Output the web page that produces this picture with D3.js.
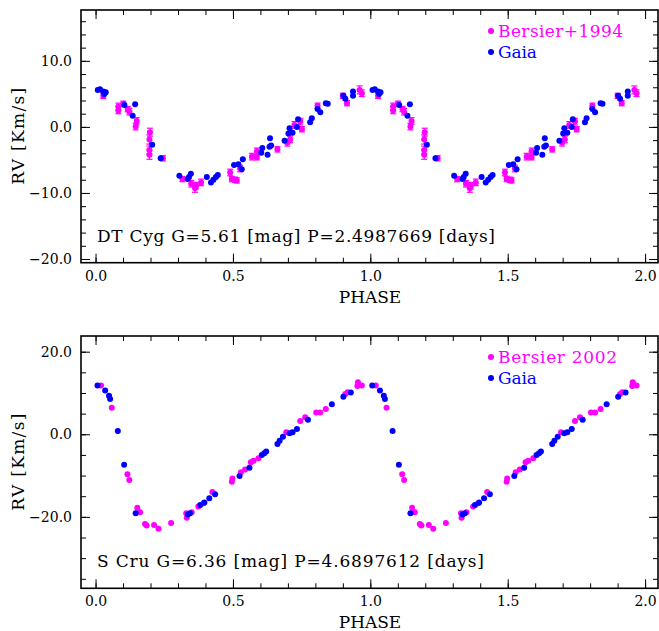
<!DOCTYPE html>
<html>
<head>
<meta charset="utf-8">
<script src="https://cdn.jsdelivr.net/npm/d3@7"></script>
<style>
  body { margin: 0; background: #fff; }
  svg text { font-family: "DejaVu Serif", serif; fill: #000; }
</style>
</head>
<body>
<div id="chart"></div>
<script>
// DT Cyg, phase 0..1 (drawn again at phase+1)
const dtGaiaPhase = [0.008, 0.016, 0.028, 0.037, 0.032, 0.105, 0.144, 0.135, 0.206, 0.237, 0.305, 0.335, 0.347, 0.340, 0.405, 0.420, 0.429, 0.438, 0.445, 0.504, 0.520, 0.536, 0.532, 0.603, 0.607, 0.626, 0.633, 0.639, 0.635, 0.688, 0.702, 0.717, 0.706, 0.733, 0.737, 0.781, 0.787, 0.808, 0.818, 0.838, 0.845, 0.902, 0.909, 0.937, 0.937];
const dtGaiaRV = [5.6, 5.7, 5.35, 5.25, 5.0, 3.33, 3.44, 1.7, -2.7, -4.75, -7.4, -7.9, -7.1, -7.6, -7.6, -8.4, -8.0, -7.6, -7.3, -5.75, -5.65, -4.9, -6.4, -3.9, -3.2, -4.2, -3.0, -2.8, -1.7, -2.1, -1.0, -0.9, -0.2, 0.0, 1.17, 0.7, 1.3, 2.7, 2.2, 3.6, 3.5, 4.7, 4.25, 5.35, 4.7];
const dtBerPhase = [0.028, 0.083, 0.083, 0.101, 0.117, 0.123, 0.150, 0.146, 0.198, 0.196, 0.196, 0.196, 0.245, 0.316, 0.348, 0.362, 0.366, 0.384, 0.490, 0.496, 0.508, 0.514, 0.526, 0.569, 0.587, 0.587, 0.662, 0.698, 0.708, 0.724, 0.745, 0.751, 0.808, 0.900, 0.915, 0.961, 0.969];
const dtBerRV = [4.7, 3.1, 2.5, 3.5, 2.7, 2.3, 0.9, 0.05, -0.8, -1.9, -3.5, -4.2, -4.75, -7.9, -8.6, -9.3, -8.9, -8.4, -6.9, -7.9, -8.0, -8.1, -6.3, -4.5, -3.7, -4.6, -3.4, -2.4, -1.9, 0.3, 0.8, -0.35, 3.2, 4.7, 3.6, 5.6, 5.1];
const dtBerErr = [0.4, 0.5, 0.5, 0.4, 0.4, 0.5, 0.5, 0.5, 0.6, 0.7, 0.6, 0.7, 0.4, 0.4, 0.5, 0.6, 0.5, 0.5, 0.5, 0.4, 0.4, 0.4, 0.5, 0.5, 0.5, 0.4, 0.4, 0.5, 0.5, 0.5, 0.5, 0.4, 0.4, 0.4, 0.4, 0.6, 0.5];

// S Cru
const scGaiaPhase = [0.007, 0.035, 0.049, 0.053, 0.081, 0.104, 0.146, 0.336, 0.344, 0.381, 0.396, 0.414, 0.435, 0.524, 0.560, 0.605, 0.614, 0.621, 0.662, 0.670, 0.682, 0.706, 0.717, 0.733, 0.773, 0.860, 0.902, 0.929];
const scGaiaRV = [11.8, 10.6, 9.35, 8.55, 0.8, -7.4, -19.1, -19.4, -19.1, -17.1, -16.5, -15.5, -14.5, -10.1, -8.1, -5.0, -4.6, -4.2, -2.35, -1.55, -0.6, 0.25, 0.5, 1.3, 3.5, 7.25, 9.1, 10.1];
const scBerPhase = [0.020, 0.059, 0.116, 0.123, 0.152, 0.162, 0.180, 0.186, 0.213, 0.229, 0.275, 0.330, 0.332, 0.350, 0.374, 0.393, 0.425, 0.496, 0.498, 0.529, 0.544, 0.565, 0.575, 0.593, 0.694, 0.745, 0.763, 0.803, 0.818, 0.838, 0.909, 0.917, 0.955, 0.953, 0.969];
const scBerRV = [11.8, 6.45, -9.7, -11.1, -17.8, -18.9, -21.7, -22.1, -22.0, -22.9, -21.5, -19.1, -20.2, -18.9, -17.5, -16.7, -14.0, -11.5, -10.7, -9.2, -8.5, -6.8, -6.4, -5.8, 0.5, 3.2, 4.1, 5.3, 5.3, 6.1, 9.75, 10.2, 12.6, 11.7, 11.8];

const xMajor = [0, 0.5, 1, 1.5, 2];
const xMinor = d3.range(0, 21).map(i => i / 10);
const dtYMajor = [10, 0, -10, -20];
const dtYMinor = d3.range(-20, 18, 2);
const scYMajor = [20, 0, -20];
const scYMinor = d3.range(-35, 25, 5);

const W = 659, H = 631;
const svg = d3.select("#chart").append("svg").attr("width", W).attr("height", H);

const MAGENTA = "#ff00ff", BLUE = "#0000ff";

function twice(phase, vals) {
  const out = [];
  for (let k = 0; k < 2; k++) {
    phase.forEach((p, i) => out.push({ x: p + k, y: vals[i], i: i }));
  }
  return out;
}

function drawPanel(cfg) {
  const x = d3.scaleLinear().domain([-0.053, 2.047]).range([81, 658]);
  const y = d3.scaleLinear().domain(cfg.yDomain).range([cfg.bottom, cfg.top]);
  const g = svg.append("g");

  // ticks, all pointing inward
  const addAxis = (axis, tr) => {
    const a = g.append("g").attr("transform", tr).call(axis);
    a.select(".domain").remove();
    a.selectAll("line").attr("stroke", "#000").attr("stroke-width", 1);
    a.selectAll("text").attr("font-size", 14).attr("font-family", "DejaVu Serif").attr("fill", "#000");
    return a;
  };
  addAxis(d3.axisBottom(x).tickValues(xMinor).tickSize(-5).tickFormat(""), `translate(0,${cfg.bottom})`);
  addAxis(d3.axisBottom(x).tickValues(xMajor).tickSize(-9).tickPadding(8).tickFormat(d3.format(".1f")), `translate(0,${cfg.bottom})`);
  addAxis(d3.axisTop(x).tickValues(xMinor).tickSize(-5).tickFormat(""), `translate(0,${cfg.top})`);
  addAxis(d3.axisTop(x).tickValues(xMajor).tickSize(-9).tickFormat(""), `translate(0,${cfg.top})`);
  addAxis(d3.axisLeft(y).tickValues(cfg.yMinor).tickSize(-5).tickFormat(""), "translate(81,0)");
  addAxis(d3.axisLeft(y).tickValues(cfg.yMajor).tickSize(-9).tickPadding(9).tickFormat(d3.format(".1f")), "translate(81,0)");
  addAxis(d3.axisRight(y).tickValues(cfg.yMinor).tickSize(-5).tickFormat(""), "translate(658,0)");
  addAxis(d3.axisRight(y).tickValues(cfg.yMajor).tickSize(-9).tickFormat(""), "translate(658,0)");

  g.append("rect")
    .attr("x", 81).attr("y", cfg.top)
    .attr("width", 658 - 81).attr("height", cfg.bottom - cfg.top)
    .attr("fill", "none").attr("stroke", "#000").attr("stroke-width", 1.6);

  // Bersier points with error bars
  const ber = twice(cfg.berPhase, cfg.berRV);
  if (cfg.berErr) {
    const eb = g.append("g").attr("stroke", MAGENTA).attr("stroke-width", 1.2);
    ber.forEach(d => {
      const e = cfg.berErr[d.i];
      const cx = x(d.x), y0 = y(d.y - e), y1 = y(d.y + e);
      eb.append("line").attr("x1", cx).attr("x2", cx).attr("y1", y0).attr("y2", y1);
      eb.append("line").attr("x1", cx - 3).attr("x2", cx + 3).attr("y1", y0).attr("y2", y0);
      eb.append("line").attr("x1", cx - 3).attr("x2", cx + 3).attr("y1", y1).attr("y2", y1);
    });
  }
  g.append("g").selectAll("circle").data(ber).enter().append("circle")
    .attr("cx", d => x(d.x)).attr("cy", d => y(d.y)).attr("r", 3).attr("fill", MAGENTA);

  const gaia = twice(cfg.gaiaPhase, cfg.gaiaRV);
  g.append("g").selectAll("circle").data(gaia).enter().append("circle")
    .attr("cx", d => x(d.x)).attr("cy", d => y(d.y)).attr("r", 3).attr("fill", BLUE);

  // legend
  g.append("circle").attr("cx", 491).attr("cy", cfg.top + 21).attr("r", 3).attr("fill", MAGENTA);
  g.append("text").attr("x", 498).attr("y", cfg.top + 27).attr("font-size", 17)
    .attr("textLength", cfg.berLabelLen).attr("lengthAdjust", "spacing")
    .style("fill", MAGENTA).text(cfg.berLabel);
  g.append("circle").attr("cx", 491).attr("cy", cfg.top + 42).attr("r", 3).attr("fill", BLUE);
  g.append("text").attr("x", 498).attr("y", cfg.top + 48).attr("font-size", 17)
    .attr("textLength", 39).attr("lengthAdjust", "spacing")
    .style("fill", BLUE).text("Gaia");

  // star info
  g.append("text").attr("x", 97).attr("y", cfg.bottom - 21).attr("font-size", 17)
    .attr("textLength", cfg.infoLen).attr("lengthAdjust", "spacing")
    .text(cfg.info);

  // axis titles
  g.append("text").attr("x", 370).attr("y", cfg.bottom + 40).attr("font-size", 17)
    .attr("text-anchor", "middle").text("PHASE");
  g.append("text").attr("transform", `translate(24,${(cfg.top + cfg.bottom) / 2}) rotate(-90)`)
    .attr("font-size", 17).attr("text-anchor", "middle")
    .attr("textLength", 97).attr("lengthAdjust", "spacing").text("RV [Km/s]");
}

drawPanel({
  top: 10, bottom: 262.7, yDomain: [-20.56, 17.7],
  yMajor: dtYMajor, yMinor: dtYMinor,
  gaiaPhase: dtGaiaPhase, gaiaRV: dtGaiaRV,
  berPhase: dtBerPhase, berRV: dtBerRV, berErr: dtBerErr,
  berLabel: "Bersier+1994", berLabelLen: 125,
  info: "DT Cyg G=5.61 [mag] P=2.4987669 [days]", infoLen: 398
});

drawPanel({
  top: 336, bottom: 588.3, yDomain: [-37.3, 23.8],
  yMajor: scYMajor, yMinor: scYMinor,
  gaiaPhase: scGaiaPhase, gaiaRV: scGaiaRV,
  berPhase: scBerPhase, berRV: scBerRV, berErr: null,
  berLabel: "Bersier 2002", berLabelLen: 119,
  info: "S Cru G=6.36 [mag] P=4.6897612 [days]", infoLen: 387
});
</script>
</body>
</html>
